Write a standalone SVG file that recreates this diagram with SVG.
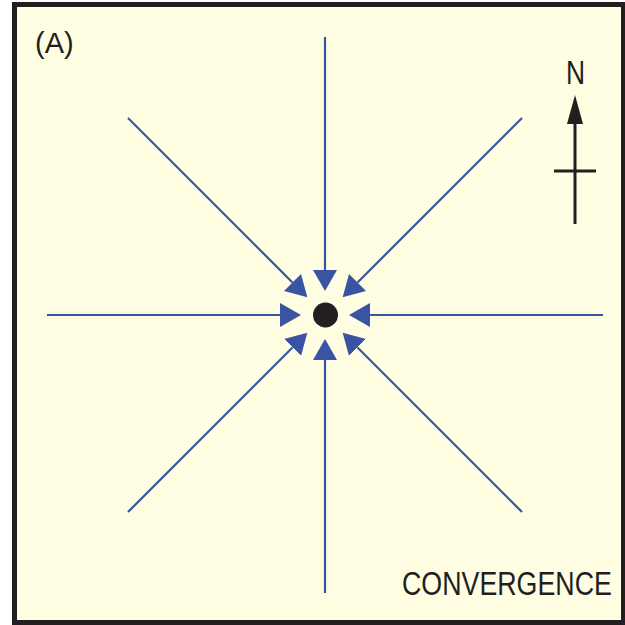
<svg xmlns="http://www.w3.org/2000/svg" width="625" height="625" viewBox="0 0 625 625">
<defs>
<style>
.flow{stroke:#3a54a4;stroke-width:2.2;fill:none;marker-end:url(#ah)}
.lbl{font-family:"Liberation Sans",Arial,sans-serif;fill:#231f20}
.blk{stroke:#231f20;stroke-width:3;fill:none}
</style>
<marker id="ah" markerUnits="userSpaceOnUse" markerWidth="22" markerHeight="26" refX="0" refY="12" orient="auto" viewBox="0 0 22 24">
<path d="M0,0 L21,12 L0,24 Z" fill="#3a54a4"/>
</marker>
</defs>
<rect x="0" y="0" width="625" height="625" fill="#ffffff"/>
<rect id="frame" x="14.5" y="4.5" width="609" height="618" fill="#fffde2" stroke="#231f20" stroke-width="5"/>
<g id="connectors">
<path class="flow" d="M325,37 L325,270"/>
<path class="flow" d="M325,593 L325,360"/>
<path class="flow" d="M47,315 L280,315"/>
<path class="flow" d="M603,315 L370,315"/>
<path class="flow" d="M128,118 L292.5,282.5"/>
<path class="flow" d="M522,118 L357.5,282.5"/>
<path class="flow" d="M128,512 L292.5,347.5"/>
<path class="flow" d="M522,512 L357.5,347.5"/>
</g>
<g id="center">
<circle cx="325.5" cy="315" r="12.5" fill="#231f20"/>
</g>
<g id="north">
<path class="blk" d="M575,224 L575,120"/>
<path d="M567,124 L575,95 L583,124 Z" fill="#231f20"/>
<path class="blk" d="M554,171 L596,171"/>
<text class="lbl" font-size="33" transform="translate(566,84) scale(0.8,1)">N</text>
</g>
<g id="label-a">
<text class="lbl" x="35" y="53" font-size="29">(A)</text>
</g>
<g id="label-conv">
<text class="lbl" font-size="33" transform="translate(402,595) scale(0.812,1)">CONVERGENCE</text>
</g>
</svg>
